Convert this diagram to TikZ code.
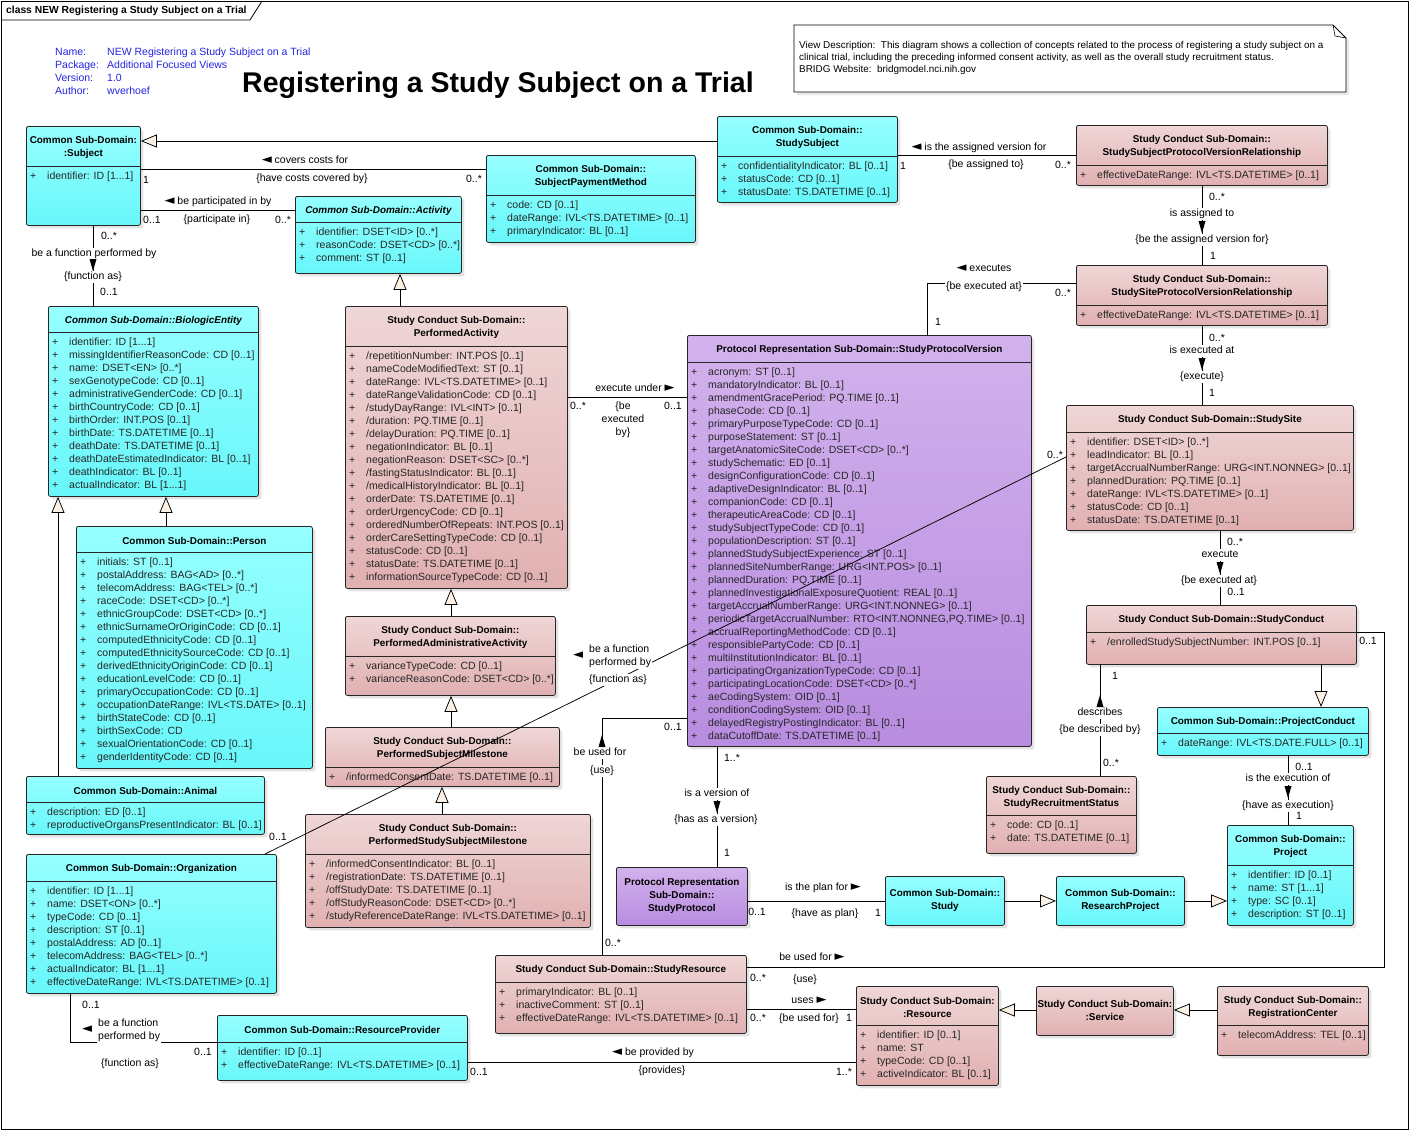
\documentclass[tikz,border=0pt]{standalone}
\usepackage{fontspec}
\setmainfont{Liberation Sans}
\newfontfamily\symfont{DejaVu Sans}
\usetikzlibrary{arrows.meta,shadows}

\definecolor{cyanTop}{RGB}{150,255,255}
\definecolor{cyanBot}{RGB}{104,247,250}
\definecolor{pinkTop}{RGB}{239,214,214}
\definecolor{pinkBot}{RGB}{225,176,177}
\definecolor{purpTop}{RGB}{210,178,236}
\definecolor{purpBot}{RGB}{184,140,224}
\definecolor{genfill}{RGB}{250,240,228}
\definecolor{infoblue}{RGB}{35,35,225}

\newcommand{\pl}{\makebox[17pt][l]{+}}
\newcommand{\tipleft}{{\symfont\fontsize{13}{13}\selectfont ◄}}
\newcommand{\tipright}{{\symfont\fontsize{13}{13}\selectfont ►}}

\tikzset{
  frameline/.style={draw=black, line width=0.8pt},
  classbox/.style={draw=black!85, line width=0.8pt, rounded corners=2pt, inner sep=0pt,
    drop shadow={shadow xshift=3pt, shadow yshift=-3pt, opacity=0.22}},
  cyanbox/.style={top color=cyanTop, bottom color=cyanBot},
  pinkbox/.style={top color=pinkTop, bottom color=pinkBot},
  purplebox/.style={top color=purpTop, bottom color=purpBot},
  sepline/.style={draw=black!85, line width=0.8pt},
  classtitle/.style={font=\bfseries\fontsize{9.9}{13}\selectfont, align=center, inner sep=0pt},
  classattr/.style={font=\fontsize{10.5}{13}\selectfont, align=left, inner sep=0pt,
    anchor=north west, text=black!85},
  assoc/.style={draw, line width=0.75pt},
  gen/.style={draw, line width=0.75pt, -{Triangle[length=16pt, width=13pt, fill=genfill]}},
  role/.style={font=\fontsize{10.5}{13}\selectfont, inner sep=1pt, fill=white,
    text height=7.5pt, text depth=2pt},
  rolebox/.style={font=\fontsize{10.5}{13}\selectfont, inner sep=1pt, fill=white},
  mult/.style={font=\fontsize{10.5}{13}\selectfont, inner sep=0pt,
    text height=7.5pt, text depth=2pt},
  infotext/.style={font=\fontsize{10.5}{13}\selectfont, text=infoblue, inner sep=0pt},
  tabtext/.style={font=\bfseries\fontsize{10.3}{12}\selectfont, inner sep=0pt},
  bigtitle/.style={font=\bfseries\fontsize{28.5}{32}\selectfont, inner sep=0pt},
  notebox/.style={draw=black, line width=0.8pt, fill=white,
    drop shadow={shadow xshift=3pt, shadow yshift=-3pt, opacity=0.18}},
  notetext/.style={font=\fontsize{9.9}{12}\selectfont, align=left, inner sep=0pt},
  pics/navdown/.style={code={\fill (-3.5,-6) -- (3.5,-6) -- (0,6) -- cycle;}},
  pics/navup/.style={code={\fill (-3.5,6) -- (3.5,6) -- (0,-6) -- cycle;}},
}

% class box: [colour]{name}{x,y}{width}{height}{header height}{title}{attributes}
\newcommand{\umlclass}[8][cyanbox]{%
  \node[classbox,#1,minimum width=#4pt,minimum height=#5pt,anchor=north west] (#2) at (#3) {};
  \def\umlattrs{#8}%
  \ifx\umlattrs\empty
    \node[classtitle] (#2-t) at (#2.center) {#7};
  \else
    \draw[sepline] ([yshift=-#6pt]#2.north west) -- ([yshift=-#6pt]#2.north east);
    \node[classtitle] (#2-t) at ([yshift=-#6pt/2-1.5pt]#2.north) {#7};
    \node[classattr] (#2-a) at ([xshift=4pt,yshift=-#6pt-4pt]#2.north west) {\strut#8};
  \fi
}

\begin{document}
\begin{tikzpicture}[x=1pt, y=-1pt]
  \useasboundingbox (0,0) rectangle (1409,1130);

  % Frame and tab
  \draw[frameline] (1,1) rectangle (1408,1129);
  \draw[frameline] (1,20) -- (250,20) -- (262,1);
  \node[tabtext, anchor=west] (tab) at (6,10.5) {class NEW Registering a Study Subject on a Trial};

  % Diagram info
  \foreach \k/\v [count=\i] in {Name:/NEW Registering a Study Subject on a Trial,
      Package:/Additional Focused Views, Version:/1.0, Author:/wverhoef} {
    \node[infotext, anchor=base west] (infokey\i) at (55,42+13*\i) {\k};
    \node[infotext, anchor=base west] (infoval\i) at (107,42+13*\i) {\v};
  }
  \node[bigtitle, anchor=base west] (maintitle) at (242,92) {Registering a Study Subject on a Trial};

  % Note
  \draw[notebox] (794,25) -- (1333,25) -- (1346,38) -- (1346,92) -- (794,92) -- cycle;
  \draw[frameline, line width=0.6pt] (1333,25) -- (1335,36) -- (1346,38);
  \node[notetext, anchor=north west] (notetxt) at (799,39.5) {\strut View Description:\ \ This diagram shows a collection of concepts related to the process of registering a study subject on a\\
    clinical trial, including the preceding informed consent activity, as well as the overall study recruitment status.\\
    BRIDG Website:\ \ bridgmodel.nci.nih.gov};

  % Common Sub-Domain classes
  \umlclass{subj}{26,126}{114}{99}{40}{Common Sub-Domain:\\:Subject}
    {\pl identifier: ID [1...1]}
  \umlclass{stsubj}{717,116}{180}{86}{40}{Common Sub-Domain::\\StudySubject}
    {\pl confidentialityIndicator: BL [0..1]\\\pl statusCode: CD [0..1]\\\pl statusDate: TS.DATETIME [0..1]}
  \umlclass{spm}{486,155}{209}{87}{40}{Common Sub-Domain::\\SubjectPaymentMethod}
    {\pl code: CD [0..1]\\\pl dateRange: IVL<TS.DATETIME> [0..1]\\\pl primaryIndicator: BL [0..1]}
  \umlclass{act}{295,196}{166}{77}{26}{\itshape Common Sub-Domain::Activity}
    {\pl identifier: DSET<ID> [0..*]\\\pl reasonCode: DSET<CD> [0..*]\\\pl comment: ST [0..1]}
  \umlclass{bioent}{48,306}{210}{190}{26}{\itshape Common Sub-Domain::BiologicEntity}
    {\pl identifier: ID [1...1]\\\pl missingIdentifierReasonCode: CD [0..1]\\\pl name: DSET<EN> [0..*]\\
     \pl sexGenotypeCode: CD [0..1]\\\pl administrativeGenderCode: CD [0..1]\\\pl birthCountryCode: CD [0..1]\\
     \pl birthOrder: INT.POS [0..1]\\\pl birthDate: TS.DATETIME [0..1]\\\pl deathDate: TS.DATETIME [0..1]\\
     \pl deathDateEstimatedIndicator: BL [0..1]\\\pl deathIndicator: BL [0..1]\\\pl actualIndicator: BL [1...1]}
  \umlclass{person}{76,526}{236}{242}{26}{Common Sub-Domain::Person}
    {\pl initials: ST [0..1]\\\pl postalAddress: BAG<AD> [0..*]\\\pl telecomAddress: BAG<TEL> [0..*]\\
     \pl raceCode: DSET<CD> [0..*]\\\pl ethnicGroupCode: DSET<CD> [0..*]\\\pl ethnicSurnameOrOriginCode: CD [0..1]\\
     \pl computedEthnicityCode: CD [0..1]\\\pl computedEthnicitySourceCode: CD [0..1]\\
     \pl derivedEthnicityOriginCode: CD [0..1]\\\pl educationLevelCode: CD [0..1]\\
     \pl primaryOccupationCode: CD [0..1]\\\pl occupationDateRange: IVL<TS.DATE> [0..1]\\
     \pl birthStateCode: CD [0..1]\\\pl birthSexCode: CD\\\pl sexualOrientationCode: CD [0..1]\\
     \pl genderIdentityCode: CD [0..1]}
  \umlclass{animal}{26,776}{238}{58}{26}{Common Sub-Domain::Animal}
    {\pl description: ED [0..1]\\\pl reproductiveOrgansPresentIndicator: BL [0..1]}
  \umlclass{org}{26,854}{250}{139}{27}{Common Sub-Domain::Organization}
    {\pl identifier: ID [1...1]\\\pl name: DSET<ON> [0..*]\\\pl typeCode: CD [0..1]\\\pl description: ST [0..1]\\
     \pl postalAddress: AD [0..1]\\\pl telecomAddress: BAG<TEL> [0..*]\\\pl actualIndicator: BL [1...1]\\
     \pl effectiveDateRange: IVL<TS.DATETIME> [0..1]}
  \umlclass{resprov}{217,1015}{250}{65}{27}{Common Sub-Domain::ResourceProvider}
    {\pl identifier: ID [0..1]\\\pl effectiveDateRange: IVL<TS.DATETIME> [0..1]}
  \umlclass{projcond}{1157,707}{211}{48}{26}{Common Sub-Domain::ProjectConduct}
    {\pl dateRange: IVL<TS.DATE.FULL> [0..1]}
  \umlclass{project}{1227,825}{126}{100}{40}{Common Sub-Domain::\\Project}
    {\pl identifier: ID [0..1]\\\pl name: ST [1...1]\\\pl type: SC [0..1]\\\pl description: ST [0..1]}
  \umlclass{study}{885,876}{119}{49}{49}{Common Sub-Domain::\\Study}{}
  \umlclass{resproj}{1056,876}{128}{49}{49}{Common Sub-Domain::\\ResearchProject}{}

  % Study Conduct Sub-Domain classes
  \umlclass[pinkbox]{sspvr}{1076,125}{251}{60}{40}{Study Conduct Sub-Domain::\\StudySubjectProtocolVersionRelationship}
    {\pl effectiveDateRange: IVL<TS.DATETIME> [0..1]}
  \umlclass[pinkbox]{sitepvr}{1076,265}{251}{60}{40}{Study Conduct Sub-Domain::\\StudySiteProtocolVersionRelationship}
    {\pl effectiveDateRange: IVL<TS.DATETIME> [0..1]}
  \umlclass[pinkbox]{perfact}{345,306}{222}{282}{40}{Study Conduct Sub-Domain::\\PerformedActivity}
    {\pl /repetitionNumber: INT.POS [0..1]\\\pl nameCodeModifiedText: ST [0..1]\\
     \pl dateRange: IVL<TS.DATETIME> [0..1]\\\pl dateRangeValidationCode: CD [0..1]\\
     \pl /studyDayRange: IVL<INT> [0..1]\\\pl /duration: PQ.TIME [0..1]\\\pl /delayDuration: PQ.TIME [0..1]\\
     \pl negationIndicator: BL [0..1]\\\pl negationReason: DSET<SC> [0..*]\\\pl /fastingStatusIndicator: BL [0..1]\\
     \pl /medicalHistoryIndicator: BL [0..1]\\\pl orderDate: TS.DATETIME [0..1]\\\pl orderUrgencyCode: CD [0..1]\\
     \pl orderedNumberOfRepeats: INT.POS [0..1]\\\pl orderCareSettingTypeCode: CD [0..1]\\
     \pl statusCode: CD [0..1]\\\pl statusDate: TS.DATETIME [0..1]\\\pl informationSourceTypeCode: CD [0..1]}
  \umlclass[pinkbox]{perfadm}{345,616}{210}{79}{40}{Study Conduct Sub-Domain::\\PerformedAdministrativeActivity}
    {\pl varianceTypeCode: CD [0..1]\\\pl varianceReasonCode: DSET<CD> [0..*]}
  \umlclass[pinkbox]{psm}{325,727}{234}{59}{40}{Study Conduct Sub-Domain::\\PerformedSubjectMilestone}
    {\pl /informedConsentDate: TS.DATETIME [0..1]}
  \umlclass[pinkbox]{pssm}{305,814}{285}{113}{40}{Study Conduct Sub-Domain::\\PerformedStudySubjectMilestone}
    {\pl /informedConsentIndicator: BL [0..1]\\\pl /registrationDate: TS.DATETIME [0..1]\\
     \pl /offStudyDate: TS.DATETIME [0..1]\\\pl /offStudyReasonCode: DSET<CD> [0..*]\\
     \pl /studyReferenceDateRange: IVL<TS.DATETIME> [0..1]}
  \umlclass[pinkbox]{site}{1066,405}{287}{125}{27}{Study Conduct Sub-Domain::StudySite}
    {\pl identifier: DSET<ID> [0..*]\\\pl leadIndicator: BL [0..1]\\\pl targetAccrualNumberRange: URG<INT.NONNEG> [0..1]\\
     \pl plannedDuration: PQ.TIME [0..1]\\\pl dateRange: IVL<TS.DATETIME> [0..1]\\\pl statusCode: CD [0..1]\\
     \pl statusDate: TS.DATETIME [0..1]}
  \umlclass[pinkbox]{conduct}{1086,605}{270}{59}{27}{Study Conduct Sub-Domain::StudyConduct}
    {\pl /enrolledStudySubjectNumber: INT.POS [0..1]}
  \umlclass[pinkbox]{recstat}{986,776}{150}{77}{39}{Study Conduct Sub-Domain::\\StudyRecruitmentStatus}
    {\pl code: CD [0..1]\\\pl date: TS.DATETIME [0..1]}
  \umlclass[pinkbox]{studyres}{495,955}{251}{78}{27}{Study Conduct Sub-Domain::StudyResource}
    {\pl primaryIndicator: BL [0..1]\\\pl inactiveComment: ST [0..1]\\\pl effectiveDateRange: IVL<TS.DATETIME> [0..1]}
  \umlclass[pinkbox]{resource}{856,986}{142}{99}{39}{Study Conduct Sub-Domain:\\:Resource}
    {\pl identifier: ID [0..1]\\\pl name: ST\\\pl typeCode: CD [0..1]\\\pl activeIndicator: BL [0..1]}
  \umlclass[pinkbox]{service}{1036,986}{137}{49}{49}{Study Conduct Sub-Domain:\\:Service}{}
  \umlclass[pinkbox]{regctr}{1217,986}{151}{69}{39}{Study Conduct Sub-Domain::\\RegistrationCenter}
    {\pl telecomAddress: TEL [0..1]}

  % Protocol Representation Sub-Domain classes
  \umlclass[purplebox]{spv}{687,335}{344}{411}{27}{Protocol Representation Sub-Domain::StudyProtocolVersion}
    {\pl acronym: ST [0..1]\\\pl mandatoryIndicator: BL [0..1]\\\pl amendmentGracePeriod: PQ.TIME [0..1]\\
     \pl phaseCode: CD [0..1]\\\pl primaryPurposeTypeCode: CD [0..1]\\\pl purposeStatement: ST [0..1]\\
     \pl targetAnatomicSiteCode: DSET<CD> [0..*]\\\pl studySchematic: ED [0..1]\\
     \pl designConfigurationCode: CD [0..1]\\\pl adaptiveDesignIndicator: BL [0..1]\\
     \pl companionCode: CD [0..1]\\\pl therapeuticAreaCode: CD [0..1]\\\pl studySubjectTypeCode: CD [0..1]\\
     \pl populationDescription: ST [0..1]\\\pl plannedStudySubjectExperience: ST [0..1]\\
     \pl plannedSiteNumberRange: URG<INT.POS> [0..1]\\\pl plannedDuration: PQ.TIME [0..1]\\
     \pl plannedInvestigationalExposureQuotient: REAL [0..1]\\\pl targetAccrualNumberRange: URG<INT.NONNEG> [0..1]\\
     \pl periodicTargetAccrualNumber: RTO<INT.NONNEG,PQ.TIME> [0..1]\\\pl accrualReportingMethodCode: CD [0..1]\\
     \pl responsiblePartyCode: CD [0..1]\\\pl multiInstitutionIndicator: BL [0..1]\\
     \pl participatingOrganizationTypeCode: CD [0..1]\\\pl participatingLocationCode: DSET<CD> [0..*]\\
     \pl aeCodingSystem: OID [0..1]\\\pl conditionCodingSystem: OID [0..1]\\
     \pl delayedRegistryPostingIndicator: BL [0..1]\\\pl dataCutoffDate: TS.DATETIME [0..1]}
  \umlclass[purplebox]{protocol}{616,867}{131}{58}{58}{Protocol Representation\\Sub-Domain::\\StudyProtocol}{}

  % Generalizations
  \draw[gen] (stsubj.west |- 0,141) -- (subj.east |- 0,141);
  \draw[gen] (perfact.north -| 400,0) -- (act.south -| 400,0);
  \draw[gen] (perfadm.north -| 451,0) -- (perfact.south -| 451,0);
  \draw[gen] (psm.north -| 451,0) -- (perfadm.south -| 451,0);
  \draw[gen] (pssm.north -| 442,0) -- (psm.south -| 442,0);
  \draw[gen] (animal.north -| 58,0) -- (bioent.south -| 58,0);
  \draw[gen] (person.north -| 166,0) -- (bioent.south -| 166,0);
  \draw[gen] (conduct.south -| 1321,0) -- (projcond.north -| 1321,0);
  \draw[gen] (study.east) -- (resproj.west);
  \draw[gen] (resproj.east) -- (project.west |- resproj.east);
  \draw[gen] (service.west |- 0,1010) -- (resource.east |- 0,1010);
  \draw[gen] (regctr.west |- 0,1010) -- (service.east |- 0,1010);

  % Associations
  \coordinate (usebendA) at (1384,632);
  \coordinate (usebendB) at (1384,967);
  \draw[assoc] (subj.east |- 0,169) -- (spm.west |- 0,169);
  \draw[assoc] (subj.east |- 0,210) -- (act.west |- 0,210);
  \draw[assoc] (subj.south -| 93,0) -- (bioent.north -| 93,0);
  \draw[assoc] (perfact.east |- 0,397) -- (spv.west |- 0,397);
  \draw[assoc] (org.north -| 265,0) -- (site.west |- 0,457);
  \draw[assoc] (stsubj.east |- 0,155) -- (sspvr.west |- 0,155);
  \draw[assoc] (sspvr.south -| 1202,0) -- (sitepvr.north -| 1202,0);
  \draw[assoc] (sitepvr.west |- 0,283) -| (spv.north -| 927,0);
  \draw[assoc] (sitepvr.south -| 1202,0) -- (site.north -| 1202,0);
  \draw[assoc] (site.south -| 1220,0) -- (conduct.north -| 1220,0);
  \draw[assoc] (conduct.south -| 1100,0) -- (recstat.north -| 1100,0);
  \draw[assoc] (projcond.south -| 1288,0) -- (project.north -| 1288,0);
  \draw[assoc] (conduct.east |- usebendA) -- (usebendA) -- (usebendB) -- (studyres.east |- usebendB);
  \draw[assoc] (studyres.east |- 0,1009) -- (resource.west |- 0,1009);
  \draw[assoc] (resprov.east |- 0,1062) -- (resource.west |- 0,1062);
  \draw[assoc] (protocol.east |- 0,901) -- (study.west |- 0,901);
  \draw[assoc] (spv.south -| 717,0) -- (protocol.north -| 717,0);
  \draw[assoc] (spv.west |- 0,718) -| (studyres.north -| 602,0);
  \draw[assoc] (org.south -| 70,0) |- (resprov.west |- 0,1042);

  % Subject associations
  \node[role] (covers) at (305,161) {\tipleft\ covers costs for};
  \node[role] (covered) at (312,179) {\{have costs covered by\}};
  \node[mult] (m1) at (146,181) {1};
  \node[mult] (m2) at (474,180) {0..*};
  \node[role] (partby) at (218,202) {\tipleft\ be participated in by};
  \node[role] (partin) at (217,220) {\{participate in\}};
  \node[mult] (m3) at (152,221) {0..1};
  \node[mult] (m4) at (283,221) {0..*};
  \node[mult] (m5) at (109,237) {0..*};
  \node[role] (funcby) at (94,254) {be a function performed by};
  \node[role] (funcas) at (93,277) {\{function as\}};
  \pic at (93,265) {navdown};
  \node[mult] (m6) at (109,293) {0..1};

  % Performed activity association
  \node[role] (execunder) at (635,389) {execute under \tipright};
  \node[rolebox, align=center, font=\fontsize{10.5}{13}\selectfont] (execby) at (623,420) {\{be\\executed\\by\}};
  \node[mult] (m7) at (578,407) {0..*};
  \node[mult] (m8) at (673,407) {0..1};

  % Organization to study site
  \node[mult] (m9) at (278,838) {0..1};
  \node[mult] (m10) at (1055,456) {0..*};
  \node[role] (orgtip) at (578,656) {\tipleft};
  \node[rolebox, align=left, anchor=west] (orgfunc) at (588,656.5) {be a function\\performed by};
  \node[role] (orgas) at (618,680) {\{function as\}};

  % Study subject protocol version
  \node[role] (assignfor) at (979,148) {\tipleft\ is the assigned version for};
  \node[role] (assignto) at (986,165) {\{be assigned to\}};
  \node[mult] (m11) at (903,167) {1};
  \node[mult] (m12) at (1063,166) {0..*};
  \node[mult] (m13) at (1217,198) {0..*};
  \node[role] (isassigned) at (1202,214) {is assigned to};
  \node[role] (beassigned) at (1202,240) {\{be the assigned version for\}};
  \pic at (1202,227) {navdown};
  \node[mult] (m14) at (1213,257) {1};

  % Study site protocol version
  \node[role] (executes) at (984,269) {\tipleft\ executes};
  \node[role] (execat) at (984,287) {\{be executed at\}};
  \node[mult] (m15) at (1063,294) {0..*};
  \node[mult] (m16) at (938,323) {1};
  \node[mult] (m17) at (1217,339) {0..*};
  \node[role] (isexecat) at (1202,351) {is executed at};
  \node[role] (execute) at (1202,377) {\{execute\}};
  \pic at (1202,364) {navdown};
  \node[mult] (m18) at (1212,394) {1};

  % Study site and study conduct
  \node[mult] (m19) at (1235,543) {0..*};
  \node[role] (siteexec) at (1220,555) {execute};
  \node[role] (siteexecat) at (1219,581) {\{be executed at\}};
  \pic at (1220,568) {navdown};
  \node[mult] (m20) at (1236,593) {0..1};
  \node[mult] (m21) at (1368,642) {0..1};
  \node[mult] (m22) at (1115,677) {1};
  \node[role] (describes) at (1100,713) {describes};
  \node[role] (described) at (1100,730) {\{be described by\}};
  \pic at (1100,701) {navup};
  \node[mult] (m23) at (1111,764) {0..*};

  % Project conduct
  \node[mult] (m24) at (1304,768) {0..1};
  \node[role] (execof) at (1288,779) {is the execution of};
  \node[role] (asexec) at (1288,806) {\{have as execution\}};
  \pic at (1288,792) {navdown};
  \node[mult] (m25) at (1299,817) {1};

  % Study protocol
  \node[mult] (m26) at (732,759) {1..*};
  \node[role] (versionof) at (717,794) {is a version of};
  \node[role] (asversion) at (716,820) {\{has as a version\}};
  \pic at (717,807) {navdown};
  \node[mult] (m27) at (727,854) {1};
  \node[role] (planfor) at (823,888) {is the plan for \tipright};
  \node[role] (asplan) at (825,914) {\{have as plan\}};
  \node[mult] (m28) at (757,913) {0..1};
  \node[mult] (m29) at (878,914) {1};

  % Study resource
  \node[mult] (m30) at (673,728) {0..1};
  \node[role] (usedfor) at (600,753) {be used for};
  \node[role] (use) at (602,771) {\{use\}};
  \pic at (602,741) {navup};
  \node[mult] (m31) at (613,944) {0..*};
  \node[role] (cusedfor) at (812,958) {be used for \tipright};
  \node[role] (cuse) at (805,980) {\{use\}};
  \node[mult] (m32) at (758,979) {0..*};
  \node[role] (uses) at (809,1001) {uses \tipright};
  \node[role] (beusedfor) at (809,1019) {\{be used for\}};
  \node[mult] (m33) at (758,1019) {0..*};
  \node[mult] (m34) at (849,1019) {1};
  \node[role] (providedby) at (653,1053) {\tipleft\ be provided by};
  \node[role] (provides) at (662,1071) {\{provides\}};
  \node[mult] (m35) at (479,1073) {0..1};
  \node[mult] (m36) at (844,1073) {1..*};

  % Organization to resource provider
  \node[mult] (m37) at (91,1006) {0..1};
  \node[role] (provtip) at (87,1030) {\tipleft};
  \node[rolebox, align=left, anchor=west] (provfunc) at (97,1030.5) {be a function\\performed by};
  \node[role] (provas) at (130,1064) {\{function as\}};
  \node[mult] (m38) at (203,1053) {0..1};
\end{tikzpicture}
\end{document}
